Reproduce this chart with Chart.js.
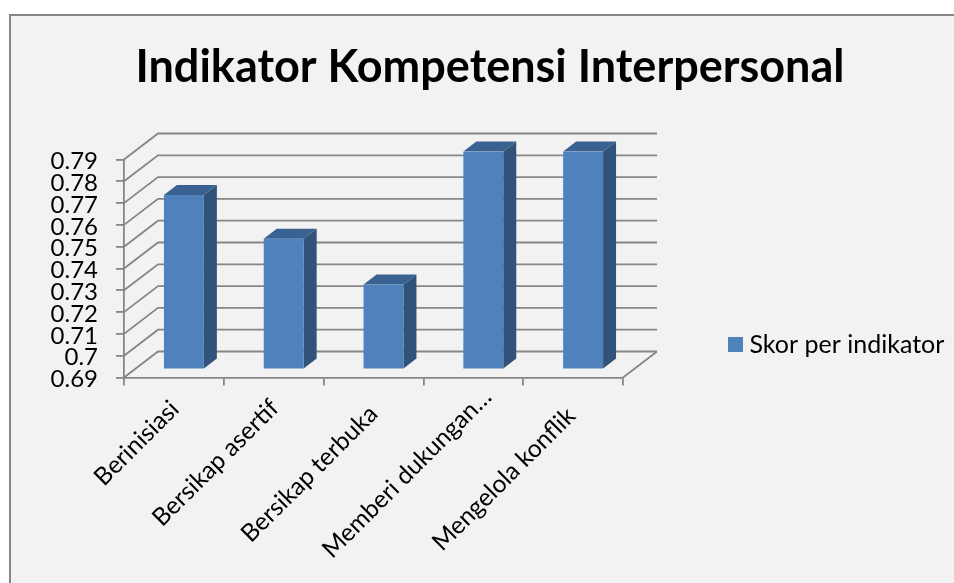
<!DOCTYPE html>
<html><head><meta charset="utf-8">
<style>html,body{margin:0;padding:0;background:#fff}canvas{display:block}</style>
<script src="https://cdn.jsdelivr.net/npm/chart.js@4"></script>
</head><body><canvas id="c" width="954" height="583"></canvas>
<script>
const categories = ["Berinisiasi","Bersikap asertif","Bersikap terbuka","Memberi dukungan…","Mengelola konflik"];
const seriesName = "Skor per indikator";
const scores = [0.77,0.75,0.729,0.79,0.79];
const axisMin = 0.69, axisMax = 0.79, axisStep = 0.01;
const FONT = "Lato";
const AXIS = "#868686";
const BAR = "#4f81bd";
const FLOOR = {dx:10,dy:-8}, DEPTH = {dx:13,dy:-10}, WALL = {dx:34,dy:-26};
const LABEL_SHIFT = [[-2,-2],[-2,-3],[-3,3],[11,-14],[-5,5]];

const legendMark = document.createElement("canvas");
legendMark.width = 15; legendMark.height = 15;
const markCtx = legendMark.getContext("2d");
markCtx.fillStyle = BAR; markCtx.fillRect(0,0,15,15);

const scene3d = {
  id:"scene3d",
  beforeDraw(chart){
    const c = chart.ctx;
    c.save();
    c.fillStyle="#f2f2f2"; c.fillRect(9,14,945,569);
    c.strokeStyle=AXIS; c.lineWidth=2;
    c.beginPath(); c.moveTo(10,583); c.lineTo(10,15); c.lineTo(954,15); c.stroke();
    c.restore();
    chart.scales.x.getLabelItems().forEach((item,i)=>{
      const tr = item.options.translation;
      item.options.translation = [tr[0]+LABEL_SHIFT[i][0], tr[1]+LABEL_SHIFT[i][1]];
    });
  },
  afterLayout(chart){
    const t = chart.titleBlock; t.left = 26; t.right = 954;
    const l = chart.legend; l.left = 724; l.right = 954; l.top = 322; l.bottom = 372;
  },
  beforeDatasetsDraw(chart){
    const c = chart.ctx, {x,y} = chart.scales;
    c.save();
    c.strokeStyle=AXIS; c.lineWidth=1.8;
    y.ticks.forEach(t=>{
      const p = y.getPixelForValue(t.value);
      c.beginPath();
      c.moveTo(x.left,p);
      c.lineTo(x.left+WALL.dx,p+WALL.dy);
      c.lineTo(x.right+WALL.dx,p+WALL.dy);
      c.stroke();
    });
    const b = y.bottom;
    c.beginPath(); c.moveTo(x.right,b); c.lineTo(x.right+WALL.dx,b+WALL.dy); c.stroke();
    c.restore();
  },
  beforeDatasetDraw(chart,args){
    const c = chart.ctx, meta = args.meta;
    c.save();
    c.translate(FLOOR.dx,FLOOR.dy);
    meta.data.forEach(bar=>{
      const p = bar.getProps(["x","y","base","width"],true);
      const l=p.x-p.width/2, r=p.x+p.width/2, t=p.y, b=p.base;
      c.fillStyle="#3a6291";
      c.beginPath(); c.moveTo(l,t); c.lineTo(l+DEPTH.dx,t+DEPTH.dy); c.lineTo(r+DEPTH.dx,t+DEPTH.dy); c.lineTo(r,t); c.closePath(); c.fill();
      c.fillStyle="#315379";
      c.beginPath(); c.moveTo(r,t); c.lineTo(r+DEPTH.dx,t+DEPTH.dy); c.lineTo(r+DEPTH.dx,b+DEPTH.dy); c.lineTo(r,b); c.closePath(); c.fill();
    });
  },
  afterDatasetDraw(chart){ chart.ctx.restore(); }
};

new Chart(document.getElementById("c"),{
  type:"bar",
  plugins:[scene3d],
  data:{labels:categories,datasets:[{label:seriesName,data:scores,base:axisMin,backgroundColor:BAR,borderWidth:0,barPercentage:0.4,categoryPercentage:1}]},
  options:{
    responsive:false,animation:false,
    layout:{padding:{left:0,right:331,top:0,bottom:0}},
    plugins:{
      tooltip:{enabled:false},
      title:{display:true,text:"Indikator Kompetensi Interpersonal",color:"#000",
        font:{family:FONT,size:45,weight:"bold"},padding:{top:40,bottom:65.5}},
      legend:{display:true,position:"chartArea",align:"start",
        labels:{font:{family:FONT,size:25},color:"#000",boxWidth:3,boxHeight:15,padding:10,usePointStyle:true,pointStyle:legendMark}}
    },
    scales:{
      x:{
        afterFit(s){s.height=205.5;},
        grid:{drawOnChartArea:false,drawTicks:true,tickLength:8,color:AXIS,lineWidth:1.8},
        border:{color:AXIS,width:1.8},
        ticks:{minRotation:45,maxRotation:45,autoSkip:false,labelOffset:3,padding:11,color:"#000",font:{family:FONT,size:24.5}}
      },
      y:{
        min:axisMin,max:axisMax,
        afterFit(s){s.width=124;},
        grid:{drawOnChartArea:false,drawTicks:true,tickLength:8,color:AXIS,lineWidth:1.8},
        border:{color:AXIS,width:1.8},
        ticks:{stepSize:axisStep,autoSkip:false,padding:18,labelOffset:2,color:"#000",font:{family:FONT,size:24},
          callback:v=>String(+(+v).toFixed(2))}
      }
    }
  }
});
</script></body></html>
